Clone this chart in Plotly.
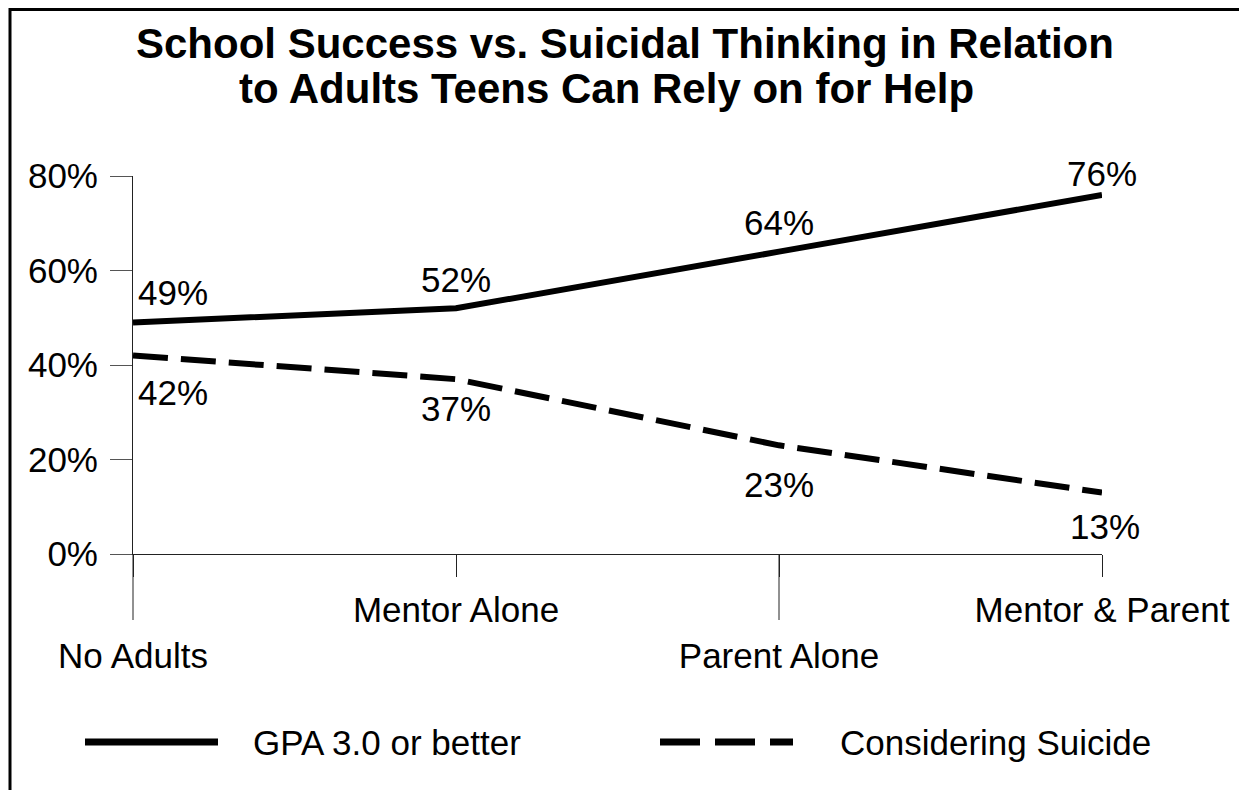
import plotly.graph_objects as go

# ---------------- data ----------------
categories = ["No Adults", "Mentor Alone", "Parent Alone", "Mentor & Parent"]
gpa_values = [49, 52, 64, 76]
suicide_values = [42, 37, 23, 13]
y_tick_values = [0, 20, 40, 60, 80]
y_tick_labels = [f"{v}%" for v in y_tick_values]
series_names = ["GPA 3.0 or better", "Considering Suicide"]
title_lines = ["School Success vs. Suicidal Thinking in Relation",
               "to Adults Teens Can Rely on for Help"]

# ---------------- layout constants ----------------
FONT = "Liberation Sans, Arial, Helvetica, sans-serif"
OFF = 8                     # page offset of the figure (body margin)
W, H = 1247 - OFF, 790 - OFF
PLOT_L, PLOT_R, PLOT_T, PLOT_B = 133, 1102, 176, 554   # page pixels
ML, MT = PLOT_L - OFF, PLOT_T - OFF
MR, MB = W - (PLOT_R - OFF), H - (PLOT_B - OFF)
PW = PLOT_R - PLOT_L
PH = PLOT_B - PLOT_T


def pxx(px):
    return (px - PLOT_L) / PW


def pxy(py):
    return 1 - (py - PLOT_T) / PH


DASH = "35px,13px"
LINE_W = 6
TXT = 35

fig = go.Figure()
fig.add_trace(go.Scatter(x=categories, y=gpa_values, mode="lines",
                         line=dict(color="black", width=LINE_W),
                         name=series_names[0], showlegend=False))
fig.add_trace(go.Scatter(x=categories, y=suicide_values, mode="lines",
                         line=dict(color="black", width=LINE_W, dash=DASH),
                         name=series_names[1], showlegend=False))

annotations = []
# data labels
gpa_shift = [30, 29, 29, 21]
sui_shift = [-37, -29, -39, -34]
for i, (c, v) in enumerate(zip(categories, gpa_values)):
    annotations.append(dict(x=c, y=v, xref="x", yref="y", text=f"{v}%",
                            showarrow=False, yanchor="middle",
                            xanchor="left" if i == 0 else "center",
                            xshift=3 if i == 0 else 0, yshift=gpa_shift[i],
                            font=dict(family=FONT, size=TXT, color="black")))
for i, (c, v) in enumerate(zip(categories, suicide_values)):
    annotations.append(dict(x=c, y=v, xref="x", yref="y", text=f"{v}%",
                            showarrow=False, yanchor="middle",
                            xanchor="left" if i == 0 else "center",
                            xshift=3 if i == 0 else (3 if i == 3 else 0),
                            yshift=sui_shift[i],
                            font=dict(family=FONT, size=TXT, color="black")))

# title (two separately placed lines)
annotations.append(dict(text=f"<b>{title_lines[0]}</b>", xref="paper", yref="paper",
                        x=pxx(625), y=pxy(44), xanchor="center", yanchor="middle",
                        showarrow=False, font=dict(family=FONT, size=42, color="black")))
annotations.append(dict(text=f"<b>{title_lines[1]}</b>", xref="paper", yref="paper",
                        x=pxx(606), y=pxy(89), xanchor="center", yanchor="middle",
                        showarrow=False, font=dict(family=FONT, size=42, color="black")))

# legend text
annotations.append(dict(text=series_names[0], xref="paper", yref="paper",
                        x=pxx(251), y=pxy(742), xanchor="left", yanchor="middle",
                        showarrow=False, font=dict(family=FONT, size=TXT, color="black")))
annotations.append(dict(text=series_names[1], xref="paper", yref="paper",
                        x=pxx(838), y=pxy(742), xanchor="left", yanchor="middle",
                        showarrow=False, font=dict(family=FONT, size=TXT, color="black")))

shapes = []
# legend samples
shapes.append(dict(type="line", xref="paper", yref="paper",
                   x0=pxx(85), x1=pxx(218), y0=pxy(742), y1=pxy(742),
                   line=dict(color="black", width=7)))
shapes.append(dict(type="line", xref="paper", yref="paper",
                   x0=pxx(660), x1=pxx(793), y0=pxy(742), y1=pxy(742),
                   line=dict(color="black", width=7, dash="40px,15px")))
# long (staggered) x ticks
n_cat = len(categories)
for i, c in enumerate(categories):
    if i % 2 == 0:
        xp = i / (n_cat - 1)
        shapes.append(dict(type="line", xref="paper", yref="paper", x0=xp, x1=xp,
                           y0=0, y1=-66 / PH,
                           line=dict(color="#222", width=1)))
# outer frame (left and top edges visible)
shapes.append(dict(type="rect", xref="paper", yref="paper",
                   x0=pxx(10), x1=pxx(1300), y0=pxy(840), y1=pxy(OFF + 1.5),
                   line=dict(color="black", width=3)))

ticktext = [("<br>" if i % 2 == 0 else "") + c for i, c in enumerate(categories)]

fig.update_layout(
    width=W, height=H,
    margin=dict(l=ML, r=MR, t=MT, b=MB, pad=0),
    paper_bgcolor="white", plot_bgcolor="white",
    font=dict(family=FONT, size=TXT, color="black"),
    showlegend=False,
    annotations=annotations,
    shapes=shapes,
    xaxis=dict(type="category", range=[0, n_cat - 1],
               tickvals=categories, ticktext=ticktext,
               showline=True, linecolor="#222", linewidth=1,
               ticks="outside", ticklen=22, tickcolor="#222", tickwidth=1,
               showgrid=False, zeroline=False,
               tickfont=dict(family=FONT, size=TXT, color="black"),
               ticklabelstandoff=3),
    yaxis=dict(range=[0, 80], tickvals=y_tick_values, ticktext=y_tick_labels,
               showline=True, linecolor="#222", linewidth=1,
               ticks="outside", ticklen=22, tickcolor="#555", tickwidth=1,
               showgrid=False, zeroline=False,
               tickfont=dict(family=FONT, size=TXT, color="black"),
               ticklabelstandoff=5),
)

fig.write_html("out.html")
